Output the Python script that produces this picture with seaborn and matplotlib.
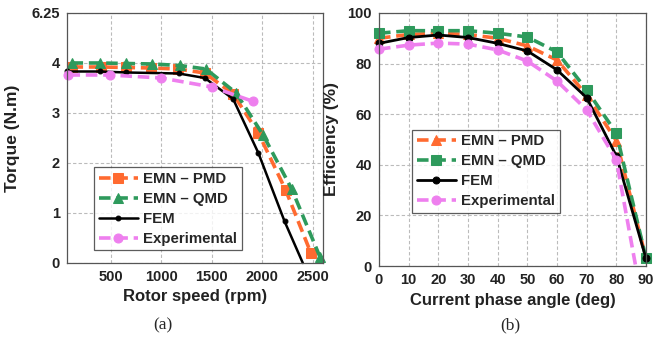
import matplotlib
matplotlib.use("Agg")
import matplotlib.pyplot as plt
import seaborn as sns
import pandas as pd

# ---- Data: panel (a) torque vs rotor speed ----
pmd_a_speed = [110, 400, 650, 900, 1160, 1430, 1710, 1960, 2230, 2480]
pmd_a_torque = [3.92, 3.92, 3.91, 3.9, 3.88, 3.8, 3.38, 2.6, 1.46, 0.2]
qmd_a_speed = [110, 390, 650, 910, 1180, 1440, 1740, 2010, 2290, 2570]
qmd_a_torque = [4.0, 4.0, 3.99, 3.98, 3.95, 3.88, 3.4, 2.55, 1.48, 0.12]
fem_a_speed = [70, 390, 650, 1170, 1430, 1710, 1960, 2220, 2400]
fem_a_torque = [3.83, 3.83, 3.81, 3.79, 3.7, 3.28, 2.2, 0.83, 0.0]
exp_a_speed = [80, 490, 1000, 1500, 1910]
exp_a_torque = [3.76, 3.76, 3.7, 3.52, 3.23]

# ---- Data: panel (b) efficiency vs current phase angle ----
angle = [0, 10, 20, 30, 40, 50, 60, 70, 80, 90]
pmd_b_eff = [90, 91.5, 92, 91.5, 90, 87, 81.4, 67.5, 49.5, 3]
qmd_b_eff = [92, 93, 93, 93, 92, 90.5, 84.6, 69.6, 52.5, 3]
fem_b_eff = [88, 90.3, 91.3, 90.3, 88, 85, 77.5, 66.5, 43.5, 3]
exp_b_angle = [0, 10, 20, 30, 40, 50, 60, 70, 80, 86.5]
exp_b_eff = [85.7, 87.3, 88.1, 87.7, 85.4, 81, 73.1, 61.7, 41.9, 0]

torque_ticks = [0, 1, 2, 3, 4, 5]
torque_ticklabels = ['0', '1', '2', '3', '4', '6.25']
speed_ticks = [500, 1000, 1500, 2000, 2500]
eff_ticks = [0, 20, 40, 60, 80, 100]
angle_ticks = [0, 10, 20, 30, 40, 50, 60, 70, 80, 90]

ORANGE = '#FF6A30'
GREEN = '#2E9A5C'
PINK = '#EE7FEE'
BLACK = '#000000'
DASH = (0, (3.2, 1.6))

sns.set_style("white")
plt.rcParams['font.family'] = ['Liberation Sans', 'DejaVu Sans']
plt.rcParams['font.weight'] = 'bold'

fig = plt.figure(figsize=(6.54, 3.39), dpi=100)
ax1 = fig.add_axes([0.1024, 0.2242, 0.3915, 0.7375])
ax2 = fig.add_axes([0.5795, 0.2153, 0.4083, 0.7464])


def draw(ax, x, y, color, ls, marker, ms, lw, label, markevery=None):
    df = pd.DataFrame({'x': x, 'y': y})
    sns.lineplot(data=df, x='x', y='y', ax=ax, color=color, linestyle=ls,
                 marker=marker, markersize=ms, linewidth=lw, label=label,
                 markeredgecolor=color, markevery=markevery, sort=False,
                 estimator=None, dashes=False)


# Panel (a)
draw(ax1, pmd_a_speed, pmd_a_torque, ORANGE, DASH, 's', 6.5, 2.6, 'EMN – PMD')
draw(ax1, qmd_a_speed, qmd_a_torque, GREEN, DASH, '^', 6.5, 2.6, 'EMN – QMD')
draw(ax1, fem_a_speed, fem_a_torque, BLACK, '-', 'o', 3.5, 1.8, 'FEM',
     markevery=list(range(len(fem_a_speed) - 1)))
draw(ax1, exp_a_speed, exp_a_torque, PINK, DASH, 'o', 6.5, 2.6, 'Experimental')

ax1.set_xlim(65, 2600)
ax1.set_ylim(0, 5)
ax1.set_xticks(speed_ticks)
ax1.set_yticks(torque_ticks)
ax1.set_yticklabels(torque_ticklabels)
ax1.set_xlabel('Rotor speed (rpm)', fontsize=12, fontweight='bold', color='#222222', labelpad=4)
ax1.set_ylabel('Torque (N.m)', fontsize=12.5, fontweight='bold', color='#222222', labelpad=8)

# Panel (b)
draw(ax2, angle, pmd_b_eff, ORANGE, DASH, '^', 6.5, 2.6, 'EMN – PMD')
draw(ax2, angle, qmd_b_eff, GREEN, DASH, 's', 6.5, 2.6, 'EMN – QMD')
draw(ax2, angle, fem_b_eff, BLACK, '-', 'o', 5, 2.0, 'FEM')
draw(ax2, exp_b_angle, exp_b_eff, PINK, DASH, 'o', 6.5, 2.6, 'Experimental',
     markevery=list(range(len(exp_b_angle) - 1)))

ax2.set_xlim(0, 90)
ax2.set_ylim(0, 100)
ax2.set_xticks(angle_ticks)
ax2.set_yticks(eff_ticks)
ax2.set_xlabel('Current phase angle (deg)', fontsize=12, fontweight='bold', color='#222222', labelpad=4)
ax2.set_ylabel('Efficiency (%)', fontsize=12.5, fontweight='bold', color='#222222', labelpad=6)

for ax in (ax1, ax2):
    ax.grid(True, linestyle=(0, (3, 2)), color='#BBBBBB', linewidth=0.8)
    ax.set_axisbelow(True)
    for s in ax.spines.values():
        s.set_color('#555555')
        s.set_linewidth(0.9)
    ax.tick_params(axis='both', labelsize=10.5, colors='#222222', length=0, pad=5)
    for lab in ax.get_xticklabels() + ax.get_yticklabels():
        lab.set_fontweight('bold')
    for line in ax.get_lines():
        line.set_clip_on(False)

leg1 = ax1.legend(loc='upper left', bbox_to_anchor=(0.078, 0.412), fontsize=10.8,
                  frameon=True, fancybox=False, edgecolor='#333333', handlelength=2.6,
                  borderpad=0.3, labelspacing=0.4, handletextpad=0.35)
leg2 = ax2.legend(loc='upper left', bbox_to_anchor=(0.097, 0.569), fontsize=10.8,
                  frameon=True, fancybox=False, edgecolor='#333333', handlelength=2.6,
                  borderpad=0.3, labelspacing=0.4, handletextpad=0.35)
for leg in (leg1, leg2):
    leg.get_frame().set_linewidth(0.9)
    for t in leg.get_texts():
        t.set_fontweight('bold')

fig.text(0.249, 0.04, '(a)', fontsize=12.5, family=['Liberation Serif', 'DejaVu Serif'],
         fontweight='normal', ha='center', va='center')
fig.text(0.781, 0.04, '(b)', fontsize=12.5, family=['Liberation Serif', 'DejaVu Serif'],
         fontweight='normal', ha='center', va='center')

fig.savefig('out.png', dpi=100)
